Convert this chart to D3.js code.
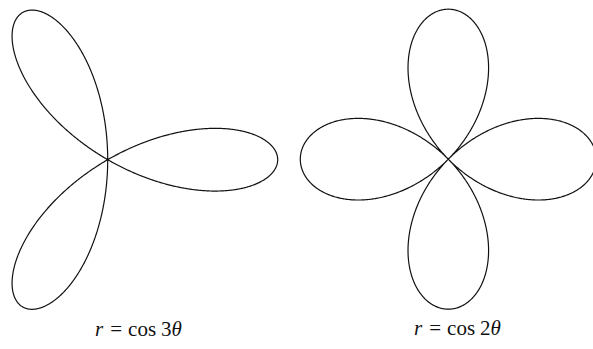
<!DOCTYPE html>
<html>
<head>
<meta charset="utf-8">
<script src="https://cdn.jsdelivr.net/npm/d3@7"></script>
<style>
  html, body { margin: 0; padding: 0; background: #fff; }
  svg { display: block; }
</style>
</head>
<body>
<svg id="chart" width="593" height="349"></svg>
<script>
// Rose curves r = cos(kθ)
const multipliers = [3, 2];           // k in r = cos kθ
const funcNames = ["cos", "cos"];      // label function text
const samples = 1440;                  // samples over one full turn

// Panel layout: centre and radius (pixels) for each rose
const panels = [
  { cx: 107.7, cy: 159.7, rx: 170, ry: 170, lx: 138.5, ly: 336 },
  { cx: 448.3, cy: 159.2, rx: 148, ry: 150, lx: 457.5, ly: 335 }
];

const svg = d3.select("#chart");

multipliers.forEach((k, i) => {
  const p = panels[i];
  const x = d3.scaleLinear().domain([-1, 1]).range([p.cx - p.rx, p.cx + p.rx]);
  const y = d3.scaleLinear().domain([-1, 1]).range([p.cy + p.ry, p.cy - p.ry]);

  // For odd k the curve closes after π, for even k after 2π
  const span = k % 2 ? Math.PI : 2 * Math.PI;
  const thetas = d3.range(samples + 1).map(j => j * span / samples);
  const pts = thetas.map(t => {
    const r = Math.cos(k * t);
    return [r * Math.cos(t), r * Math.sin(t)];
  });

  const line = d3.line()
    .x(d => x(d[0]))
    .y(d => y(d[1]))
    .curve(d3.curveLinear);

  svg.append("path")
    .datum(pts)
    .attr("d", line)
    .attr("fill", "none")
    .attr("stroke", "#111")
    .attr("stroke-width", 1.2)
    .attr("stroke-linejoin", "round");

  const label = svg.append("text")
    .attr("x", p.lx)
    .attr("y", p.ly)
    .attr("text-anchor", "middle")
    .attr("font-family", "'Liberation Serif', 'Times New Roman', serif")
    .attr("font-size", 21)
    .attr("fill", "#111");
  label.append("tspan").attr("font-style", "italic").text("r");
  label.append("tspan").attr("dx", 7).text("=");
  label.append("tspan").attr("dx", 6).text(funcNames[i]);
  label.append("tspan").attr("dx", 5).text(String(k));
  label.append("tspan").attr("font-style", "italic").text("θ");
});
</script>
</body>
</html>
